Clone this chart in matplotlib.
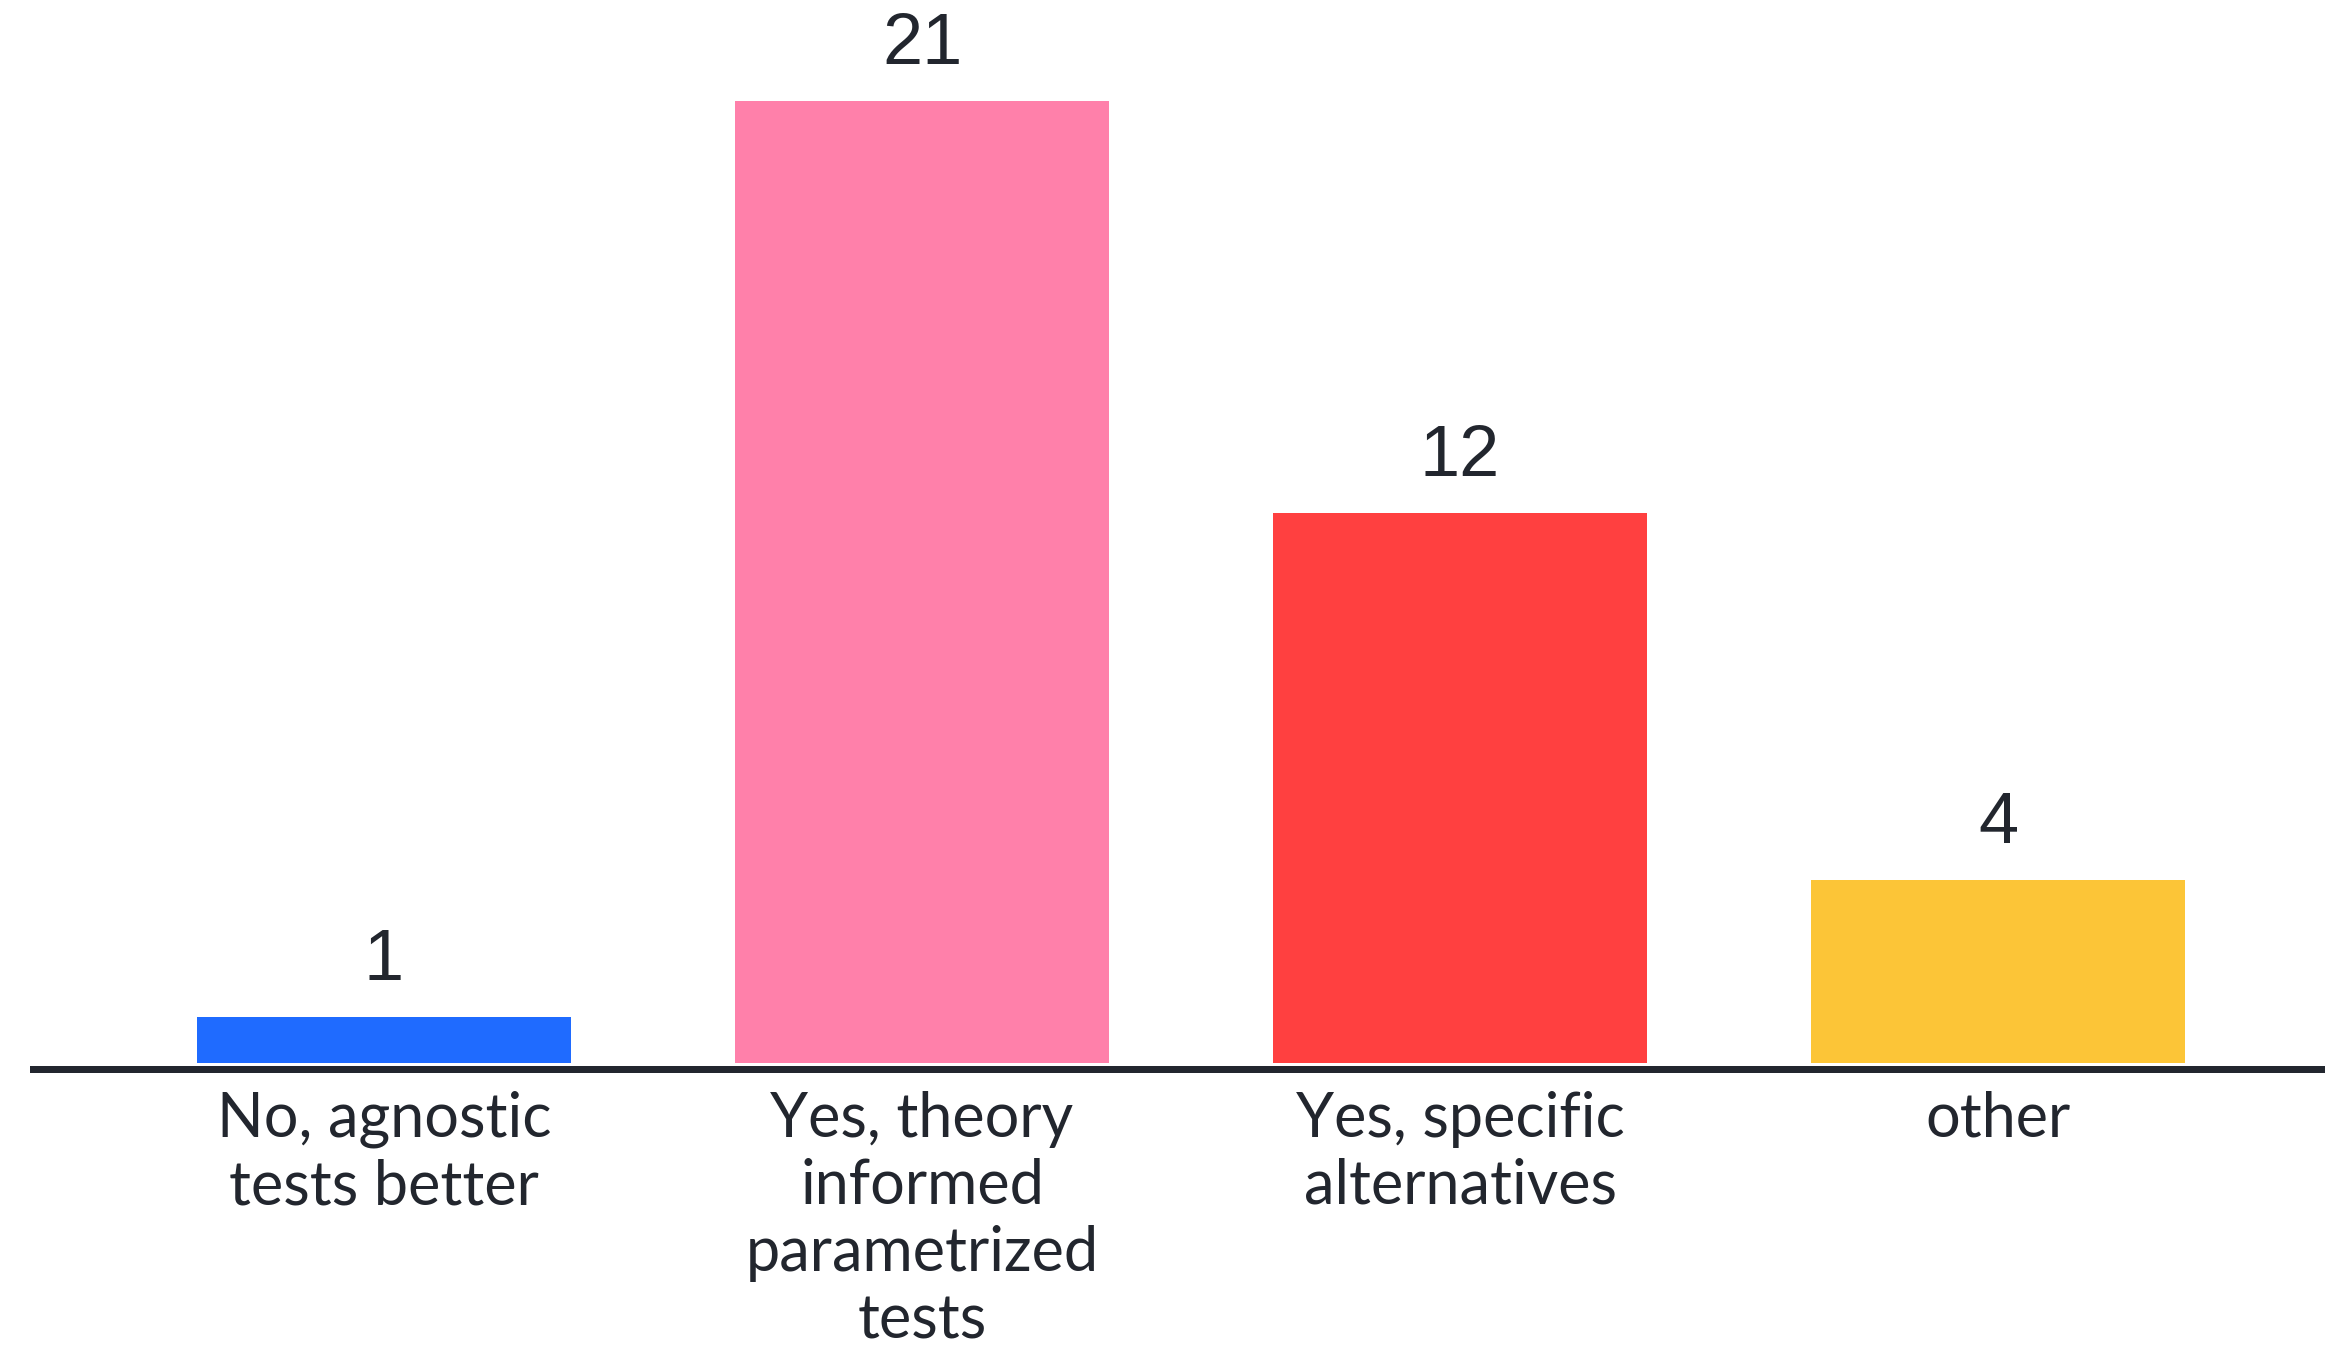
import matplotlib
matplotlib.use("Agg")
import matplotlib.pyplot as plt

categories = [
    "No, agnostic\ntests better",
    "Yes, theory\ninformed\nparametrized\ntests",
    "Yes, specific\nalternatives",
    "other",
]
counts = [1, 21, 12, 4]
bar_colors = ["#1f6bff", "#ff80aa", "#ff4040", "#fcc537"]
text_color = "#22262e"

W, H, DPI = 2325, 1349, 100
fig = plt.figure(figsize=(W / DPI, H / DPI), dpi=DPI)

# axes placed in pixels: bar baseline at y=1063 px from top, axis line starts at x=33
base_px = 1063
ax = fig.add_axes([33 / W, (H - base_px) / H, 1 - 33 / W, base_px / H])

px_per_unit = 45.8
spacing = 538.0
x = list(range(len(counts)))
ax.bar(x, counts, width=0.697, color=bar_colors)

ax.set_xlim(-351 / spacing, (W - 33 - 351) / spacing)
ax.set_ylim(0, base_px / px_per_unit)

# thick baseline just under the bars
ax.axhline(-0.14, color=text_color, linewidth=7 * 72 / DPI, clip_on=False)

for xi, v in zip(x, counts):
    ax.annotate(str(v), (xi, v), xytext=(0, 22), textcoords="offset pixels",
                ha="center", va="bottom", fontsize=52, color=text_color,
                family="Liberation Sans")

ax.set_xticks(x)
ax.set_xticklabels(categories, fontsize=44, color=text_color, family="Lato",
                   linespacing=1.22)
ax.tick_params(axis="x", length=0, pad=20)
ax.set_yticks([])
for s in ax.spines.values():
    s.set_visible(False)
ax.patch.set_alpha(0)

fig.savefig("out.png", dpi=DPI, facecolor="white")
